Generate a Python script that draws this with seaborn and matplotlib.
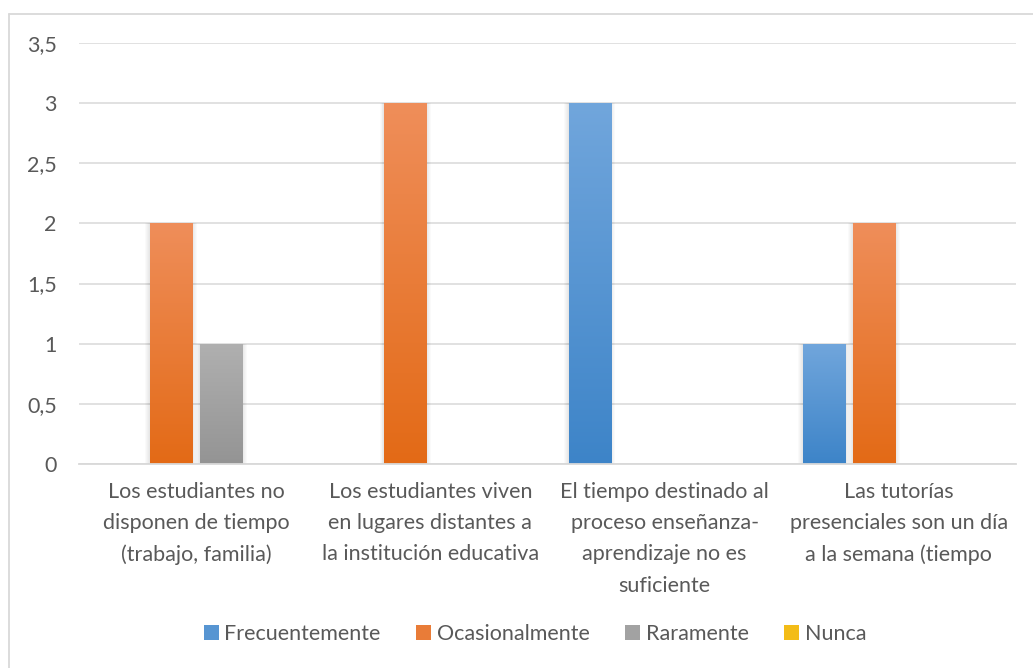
import matplotlib
matplotlib.use("Agg")
import matplotlib.pyplot as plt
import seaborn as sns
import numpy as np
import pandas as pd
from matplotlib.colors import LinearSegmentedColormap
from matplotlib.patches import Patch, Rectangle
from matplotlib.lines import Line2D

categories = [
    "Los estudiantes no\ndisponen de tiempo\n(trabajo, familia)",
    "Los estudiantes viven\nen lugares distantes a\nla institución educativa",
    "El tiempo destinado al\nproceso enseñanza-\naprendizaje no es\nsuficiente",
    "Las tutorías\npresenciales son un día\na la semana (tiempo",
]
series_names = ["Frecuentemente", "Ocasionalmente", "Raramente", "Nunca"]
frecuentemente = [0, 0, 3, 1]
ocasionalmente = [2, 3, 0, 2]
raramente = [1, 0, 0, 0]
nunca = [0, 0, 0, 0]
y_ticks = [0, 0.5, 1, 1.5, 2, 2.5, 3, 3.5]
y_tick_labels = ["0", "0,5", "1", "1,5", "2", "2,5", "3", "3,5"]

# gradient colours (top, bottom) per series
grad = {
    "Frecuentemente": ("#71A6DC", "#3D84C8"),
    "Ocasionalmente": ("#EF8E5A", "#E36A16"),
    "Raramente": ("#B0B0B0", "#949494"),
    "Nunca": ("#FFCB2E", "#E8AE00"),
}
mid = {k: matplotlib.colors.to_hex(
    (np.array(matplotlib.colors.to_rgb(v[0])) + np.array(matplotlib.colors.to_rgb(v[1]))) / 2)
    for k, v in grad.items()}

rows = []
for name, vals in zip(series_names, [frecuentemente, ocasionalmente, raramente, nunca]):
    for c, v in zip(categories, vals):
        rows.append({"cat": c, "serie": name, "valor": v})
df = pd.DataFrame(rows)

sns.set_theme(style="white")
plt.rcParams["font.family"] = ["Lato", "DejaVu Sans"]

W, H = 1033, 668
FS = 15.5
fig = plt.figure(figsize=(W / 100, H / 100), dpi=100)
ax = fig.add_axes([79 / W, (H - 464) / H, (1016 - 79) / W, (464 - 43) / H])

sns.barplot(data=df, x="cat", y="valor", hue="serie", order=categories,
            hue_order=series_names, palette=[mid[s] for s in series_names],
            width=200 / 234, gap=0.16, ax=ax, legend=False,
            edgecolor="none", linewidth=0, saturation=1)

ax.set_xlim(-0.5, 3.5)
ax.set_ylim(0, 3.5)
ax.set_axisbelow(True)
ax.set_yticks(y_ticks)
ax.set_yticklabels(y_tick_labels)
ax.yaxis.grid(True, color="#D9D9D9", linewidth=1.1)
ax.xaxis.grid(False)
for s in ["top", "right", "left"]:
    ax.spines[s].set_visible(False)
ax.spines["bottom"].set_color("#D9D9D9")
ax.spines["bottom"].set_linewidth(1.3)
ax.set_xlabel("")
ax.set_ylabel("")
ax.tick_params(axis="y", length=0, pad=16, labelsize=FS, labelcolor="#595959")
ax.tick_params(axis="x", length=0, pad=13, labelsize=FS, labelcolor="#595959")
for lbl in ax.get_xticklabels():
    lbl.set_linespacing(1.7)
    lbl.set_verticalalignment("top")

# gradient fill + soft shadow for each bar
n_cat = len(categories)
for i, p in enumerate(ax.patches):
    h = p.get_height()
    if h <= 0:
        continue
    serie = series_names[i // n_cat]
    top, bot = grad[serie]
    x0 = p.get_x()
    w = p.get_width()
    # shadow
    for k in range(1, 6):
        d = 0.004 * k
        ax.add_patch(Rectangle((x0 - d, 0), w + 2 * d, h, facecolor="black",
                               alpha=0.018, edgecolor="none", zorder=1.5))
    cmap = LinearSegmentedColormap.from_list("g", [bot, top])
    g = np.linspace(0, 1, 256).reshape(-1, 1)
    im = ax.imshow(g, cmap=cmap, aspect="auto", origin="lower",
                   extent=(x0, x0 + w, 0, h), zorder=2, interpolation="bilinear")
    im.set_clip_path(p)
    p.set_zorder(2)
ax.set_xlim(-0.5, 3.5)
ax.set_ylim(0, 3.5)

handles = [Patch(facecolor=mid[s], edgecolor="none", label=s) for s in series_names]
fig.legend(handles=handles, loc="center", bbox_to_anchor=(535 / W, 1 - 634 / H),
           ncol=4, frameon=False, fontsize=FS, handlelength=0.7, handleheight=0.7,
           handletextpad=0.25, columnspacing=1.65, labelcolor="#595959")

# chart-area border (top and left edges visible)
fig.add_artist(Line2D([8.5 / W, 1.0], [1 - 13.5 / H, 1 - 13.5 / H],
                      transform=fig.transFigure, color="#D9D9D9", linewidth=1.3))
fig.add_artist(Line2D([8.5 / W, 8.5 / W], [0, 1 - 13.5 / H],
                      transform=fig.transFigure, color="#D9D9D9", linewidth=1.3))

fig.savefig("out.png", dpi=100, facecolor="white")
